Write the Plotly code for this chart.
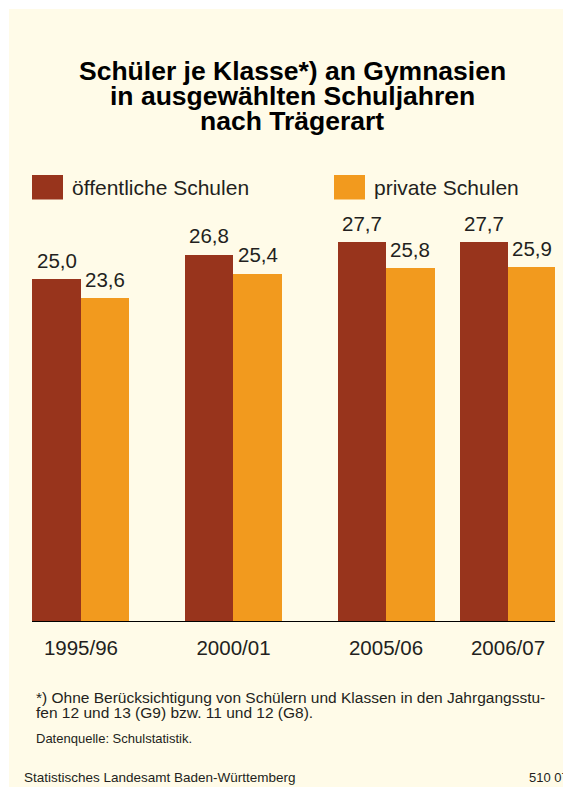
import plotly.graph_objects as go

# ---------------- data ----------------
categories = ["1995/96", "2000/01", "2005/06", "2006/07"]
oeffentlich = [25.0, 26.8, 27.7, 27.7]
privat = [23.6, 25.4, 25.8, 25.9]
series_names = ["öffentliche Schulen", "private Schulen"]

title_lines = ["Schüler je Klasse*) an Gymnasien",
               "in ausgewählten Schuljahren",
               "nach Trägerart"]
footnote_lines = ["*) Ohne Berücksichtigung von Schülern und Klassen in den Jahrgangsstu-",
                  "fen 12 und 13 (G9) bzw. 11 und 12 (G8)."]
source_text = "Datenquelle: Schulstatistik."
publisher_text = "Statistisches Landesamt Baden-Württemberg"
code_text = "510 07"

# ---------------- layout constants ----------------
W, H = 563, 787
ML, MR, MT, MB = 32, 8, 211, 166
PW, PH = W - ML - MR, H - MT - MB
group_pos = [0, 1, 2, 2.8]          # uneven group spacing as in original
bar_w = 0.318
DARK = "#98341C"
ORANGE = "#F29A1E"
CREAM = "#FFFBE8"
TXT = "#231F20"
FONT = "Liberation Sans, Arial, Helvetica, sans-serif"


def px(x):   # page pixel -> paper
    return (x - ML) / PW


def py(y):
    return (H - MB - y) / PH


fig = go.Figure()
fig.add_trace(go.Bar(x=group_pos, y=oeffentlich, name=series_names[0],
                     marker=dict(color=DARK, line=dict(width=0)),
                     width=bar_w, offset=-bar_w, showlegend=False, hoverinfo="skip"))
fig.add_trace(go.Bar(x=group_pos, y=privat, name=series_names[1],
                     marker=dict(color=ORANGE, line=dict(width=0)),
                     width=bar_w, offset=0, showlegend=False, hoverinfo="skip"))

ann = []
# value labels
for xs, vals, off in [(group_pos, oeffentlich, -bar_w / 2), (group_pos, privat, bar_w / 2)]:
    for xv, v in zip(xs, vals):
        ann.append(dict(x=xv + off, y=v, xref="x", yref="y",
                        text=f"{v:.1f}".replace(".", ","), showarrow=False,
                        yanchor="bottom", xanchor="center", yshift=5.5,
                        font=dict(family=FONT, size=20.5, color=TXT)))

# title
for line, yc in zip(title_lines, [71.5, 96.5, 120.5]):
    ann.append(dict(x=px(292), y=py(yc), xref="paper", yref="paper", text=f"<b>{line}</b>",
                    showarrow=False, xanchor="center", yanchor="middle",
                    font=dict(family=FONT, size=26.5, color="#000000")))

# legend
shapes = []
for (x0, name, col) in [(32, series_names[0], DARK), (334, series_names[1], ORANGE)]:
    shapes.append(dict(type="rect", xref="paper", yref="paper",
                       x0=px(x0), x1=px(x0 + 31), y0=py(199.5), y1=py(175),
                       fillcolor=col, line=dict(width=0)))
    ann.append(dict(x=px(x0 + 38), y=py(187.5), xref="paper", yref="paper", text=name,
                    showarrow=False, xanchor="left", yanchor="middle",
                    font=dict(family=FONT, size=21, color=TXT)))

# footnotes
for line, yc in zip(footnote_lines, [697, 712]):
    ann.append(dict(x=px(34), y=py(yc), xref="paper", yref="paper", text=line,
                    showarrow=False, xanchor="left", yanchor="middle",
                    font=dict(family=FONT, size=15.5, color=TXT)))
ann.append(dict(x=px(34), y=py(738), xref="paper", yref="paper", text=source_text,
                showarrow=False, xanchor="left", yanchor="middle",
                font=dict(family=FONT, size=13, color=TXT)))
ann.append(dict(x=px(22), y=py(777), xref="paper", yref="paper", text=publisher_text,
                showarrow=False, xanchor="left", yanchor="middle",
                font=dict(family=FONT, size=13.5, color=TXT)))
ann.append(dict(x=px(527), y=py(777), xref="paper", yref="paper", text=code_text,
                showarrow=False, xanchor="left", yanchor="middle",
                font=dict(family=FONT, size=13, color=TXT)))

# white frame strips at top and left
shapes.append(dict(type="rect", xref="paper", yref="paper", x0=px(0), x1=px(W), y0=py(9), y1=py(0),
                   fillcolor="#FFFFFF", line=dict(width=0), layer="above"))
shapes.append(dict(type="rect", xref="paper", yref="paper", x0=px(0), x1=px(9), y0=py(H), y1=py(0),
                   fillcolor="#FFFFFF", line=dict(width=0), layer="above"))

fig.update_layout(
    width=W, height=H,
    margin=dict(l=ML, r=MR, t=MT, b=MB, pad=0),
    paper_bgcolor=CREAM, plot_bgcolor=CREAM,
    barmode="overlay", bargap=0,
    annotations=ann, shapes=shapes,
    showlegend=False,
    xaxis=dict(range=[-0.321, 3.108], tickmode="array", tickvals=group_pos, ticktext=categories,
               showgrid=False, zeroline=False, showline=True, linecolor="#000000", linewidth=1.2,
               ticks="outside", ticklen=8, tickcolor="rgba(0,0,0,0)",
               tickfont=dict(family=FONT, size=20.5, color=TXT), fixedrange=True),
    yaxis=dict(range=[0, 30], visible=False, fixedrange=True),
)

fig.write_html("out.html", config={"displayModeBar": False},
               post_script="document.body.style.margin='0px';document.body.style.overflow='hidden';")
